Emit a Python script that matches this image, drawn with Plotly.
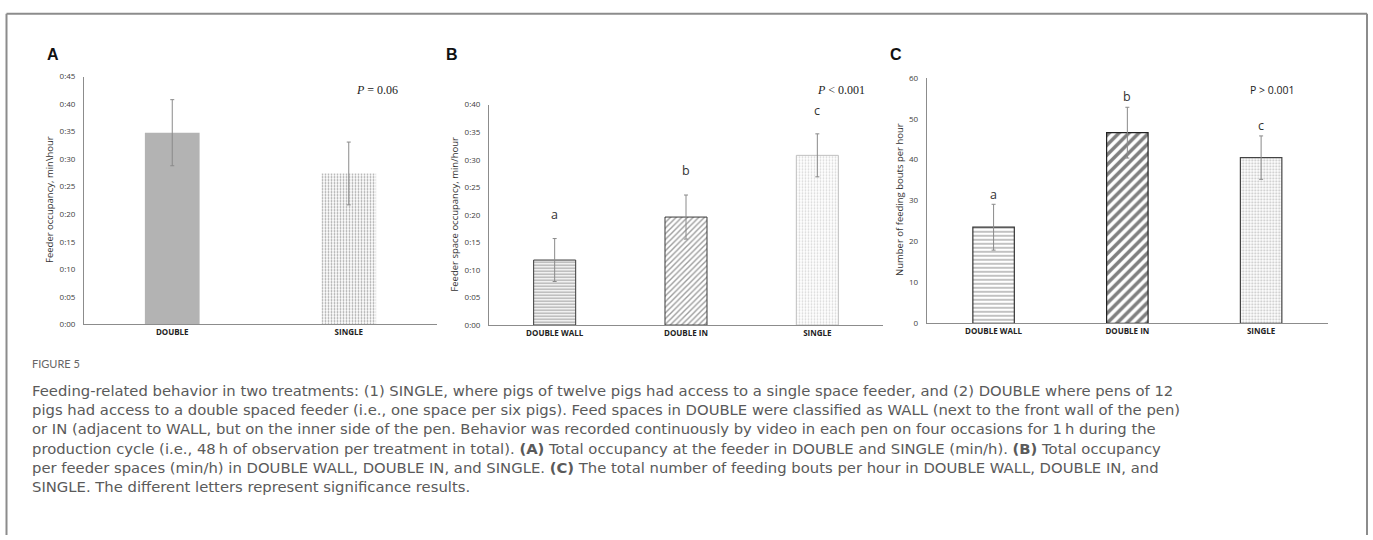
import plotly.graph_objects as go

W, H = 1373, 540

# ---------------- data ----------------
cats_a = ["DOUBLE", "SINGLE"]
occ_a = [34.8, 27.4]
err_a = [6.0, 5.7]

cats_b = ["DOUBLE WALL", "DOUBLE IN", "SINGLE"]
occ_b = [11.8, 19.6, 30.8]
err_b = [3.9, 4.0, 3.9]
letters_b = ["a", "b", "c"]
letter_y_b = [20.0, 28.0, 39.0]

cats_c = ["DOUBLE WALL", "DOUBLE IN", "SINGLE"]
bouts_c = [23.5, 46.6, 40.5]
err_c = [5.6, 6.2, 5.3]
letters_c = ["a", "b", "c"]
letter_y_c = [31.5, 55.5, 48.3]

time_tickvals = [0, 5, 10, 15, 20, 25, 30, 35, 40, 45]
time_ticktext = ["0:00", "0:05", "0:10", "0:15", "0:20", "0:25", "0:30", "0:35", "0:40", "0:45"]
count_tickvals = [0, 10, 20, 30, 40, 50, 60]

caption_lines = [
    "Feeding-related behavior in two treatments: (1) SINGLE, where pigs of twelve pigs had access to a single space feeder, and (2) DOUBLE where pens of 12",
    "pigs had access to a double spaced feeder (i.e., one space per six pigs). Feed spaces in DOUBLE were classified as WALL (next to the front wall of the pen)",
    "or IN (adjacent to WALL, but on the inner side of the pen. Behavior was recorded continuously by video in each pen on four occasions for 1\u2009h during the",
    "production cycle (i.e., 48\u2009h of observation per treatment in total). <b>(A)</b> Total occupancy at the feeder in DOUBLE and SINGLE (min/h). <b>(B)</b> Total occupancy",
    "per feeder spaces (min/h) in DOUBLE WALL, DOUBLE IN, and SINGLE. <b>(C)</b> The total number of feeding bouts per hour in DOUBLE WALL, DOUBLE IN, and",
    "SINGLE. The different letters represent significance results.",
]

# ---------------- helpers ----------------
def px_x(p):
    return p / W

def px_y(p):
    return 1 - p / H

ERR = dict(type="data", thickness=1, width=2, color="#8a8a8a")

fig = go.Figure()

# Panel A
fig.add_trace(go.Bar(
    x=cats_a, y=occ_a, width=0.31, xaxis="x", yaxis="y",
    error_y=dict(array=err_a, **ERR),
    marker=dict(
        color=["#b3b3b3", "#ffffff"],
        line=dict(width=0),
        pattern=dict(shape=["", "."], size=3, solidity=0.3,
                     fgcolor=["#b3b3b3", "#bdbdbd"], bgcolor=["#b3b3b3", "#f2f2f2"]),
    ),
    showlegend=False,
))

# Panel B
fig.add_trace(go.Bar(
    x=cats_b, y=occ_b, width=0.32, xaxis="x2", yaxis="y2",
    error_y=dict(array=err_b, **ERR),
    marker=dict(
        color="#ffffff",
        line=dict(width=1, color=["#3a3a3a", "#3a3a3a", "#c0c0c0"]),
        pattern=dict(shape=["-", "/", "."], size=[3, 4, 3], solidity=[0.45, 0.35, 0.3],
                     fgcolor=["#4a4a4a", "#3a3a3a", "#b0b0b0"], bgcolor="#ffffff"),
    ),
    showlegend=False,
))

# Panel C
fig.add_trace(go.Bar(
    x=cats_c, y=bouts_c, width=0.31, xaxis="x3", yaxis="y3",
    error_y=dict(array=err_c, **ERR),
    marker=dict(
        color="#ffffff",
        line=dict(width=1.2, color=["#333333", "#222222", "#444444"]),
        pattern=dict(shape=["-", "/", "."], size=[4, 7, 3], solidity=[0.3, 0.5, 0.3],
                     fgcolor=["#333333", "#000000", "#808080"], bgcolor="#ffffff"),
    ),
    showlegend=False,
))

TICKFONT = dict(family="Open Sans", size=8, color="#404040")
XTICKFONT = dict(family="Open Sans", size=8, color="#222222", weight="bold")
common_y = dict(showline=True, linecolor="#8c8c8c", linewidth=1, showgrid=False,
                zeroline=False, ticks="", tickfont=TICKFONT, ticklabelstandoff=6)
common_x = dict(showline=True, linecolor="#8c8c8c", linewidth=1, showgrid=False,
                ticks="", tickfont=XTICKFONT, type="category")

fig.update_layout(
    width=W, height=H, margin=dict(l=0, r=0, t=0, b=0),
    paper_bgcolor="white", plot_bgcolor="white",
    xaxis=dict(domain=[px_x(84), px_x(437)], anchor="y", **common_x),
    yaxis=dict(domain=[px_y(325), px_y(72)], anchor="x", range=[0, 45],
               tickvals=time_tickvals, ticktext=time_ticktext, **common_y),
    xaxis2=dict(domain=[px_x(489), px_x(883)], anchor="y2", **common_x),
    yaxis2=dict(domain=[px_y(325.7), px_y(100.7)], anchor="x2", range=[0, 40],
                tickvals=time_tickvals[:9], ticktext=time_ticktext[:9], **common_y),
    xaxis3=dict(domain=[px_x(926.7), px_x(1328)], anchor="y3", **common_x),
    yaxis3=dict(domain=[px_y(324), px_y(73.3)], anchor="x3", range=[0, 60],
                tickvals=count_tickvals, **common_y),
)

ann = []
C = dict(showarrow=False, xanchor="center", yanchor="middle")
# panel letters
for lab, xp in [("A", 53), ("B", 452), ("C", 896)]:
    ann.append(dict(text="<b>" + lab + "</b>", x=px_x(xp), y=px_y(50), xref="paper", yref="paper",
                    font=dict(family="Liberation Sans", size=16, color="#111111"), **C))
# y titles
for t, xp, yp in [("Feeder occupancy, min\\hour", 50, 198),
                  ("Feeder space occupancy, min/hour", 455, 213),
                  ("Number of feeding bouts per hour", 900, 198)]:
    ann.append(dict(text=t, x=px_x(xp), y=px_y(yp), xref="paper", yref="paper", textangle=-90,
                    font=dict(family="Open Sans", size=9.5, color="#333333"), **C))
# P values
ann.append(dict(text="<i>P</i> = 0.06", x=px_x(377), y=px_y(86), xref="paper", yref="paper",
                font=dict(family="Liberation Serif", size=12, color="#222222"), **C))
ann.append(dict(text="<i>P</i> < 0.001", x=px_x(841), y=px_y(86), xref="paper", yref="paper",
                font=dict(family="Liberation Serif", size=12, color="#222222"), **C))
ann.append(dict(text="P > 0.001", x=px_x(1272), y=px_y(86), xref="paper", yref="paper",
                font=dict(family="Open Sans", size=10.5, color="#222222"), **C))
# significance letters
for c, l, yv in zip(cats_b, letters_b, letter_y_b):
    ann.append(dict(text=l, x=c, y=yv, xref="x2", yref="y2",
                    font=dict(family="Open Sans", size=12.5, color="#333333"), **C))
for c, l, yv in zip(cats_c, letters_c, letter_y_c):
    ann.append(dict(text=l, x=c, y=yv, xref="x3", yref="y3",
                    font=dict(family="Open Sans", size=12.5, color="#333333"), **C))
# caption
ann.append(dict(text="FIGURE 5", x=px_x(30), y=px_y(365), xref="paper", yref="paper",
                showarrow=False, xanchor="left", yanchor="middle",
                font=dict(family="Lato", size=11, color="#666666")))
ann.append(dict(text="<br>".join(caption_lines), x=px_x(30), y=px_y(441),
                xref="paper", yref="paper", showarrow=False, xanchor="left", yanchor="middle",
                align="left", font=dict(family="DejaVu Sans", size=14.8, color="#5a5a5a")))
fig.update_layout(annotations=ann)

# frame
frame = dict(type="line", xref="paper", yref="paper", line=dict(color="#8c8c8c", width=2))
fig.update_layout(shapes=[
    dict(x0=px_x(6.5), x1=px_x(6.5), y0=px_y(8), y1=0, **frame),
    dict(x0=px_x(6.5), x1=px_x(1367), y0=px_y(8), y1=px_y(8), **frame),
    dict(x0=px_x(1367), x1=px_x(1367), y0=px_y(8), y1=0, **frame),
])

fig.write_html(
    "out.html",
    config={"displayModeBar": False},
    post_script="document.body.style.margin='0';document.body.style.overflow='hidden';",
)
